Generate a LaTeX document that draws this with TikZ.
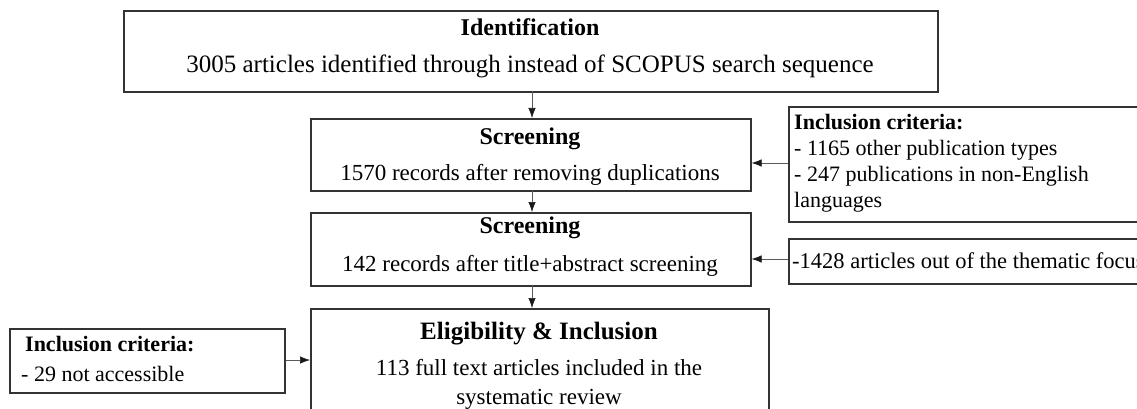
\documentclass[tikz,border=0pt]{standalone}
\usepackage{fontspec}
\setmainfont{Liberation Serif}
\usetikzlibrary{arrows.meta}
\tikzset{
  box/.style={draw=black!80, line width=1.6pt, rectangle, inner sep=0pt, anchor=north west},
  arr/.style={draw=black!65, line width=0.7pt, -{Latex[length=10pt,width=7.5pt,color=black!90]}},
  ttl/.style={anchor=base, inner sep=0pt, font=\bfseries\fontsize{24}{28}\selectfont},
  body/.style={anchor=base, inner sep=0pt, font=\fontsize{23}{27}\selectfont},
  side/.style={anchor=base west, inner sep=0pt, font=\fontsize{22}{26}\selectfont},
  sidet/.style={anchor=base west, inner sep=0pt, font=\bfseries\fontsize{22}{26}\selectfont},
}
\begin{document}
\begin{tikzpicture}[x=1pt,y=-1pt]
\useasboundingbox (0,0) rectangle (1137,409);
\clip (0,0) rectangle (1137,409);
% main boxes
\node[box, minimum width=814pt, minimum height=81pt] (ident) at (123,10) {};
\node[ttl] (identT) at (530,36) {Identification};
\node[body, font=\fontsize{25}{29}\selectfont] (identB) at (530,73) {3005 articles identified through instead of SCOPUS search sequence};

\node[box, minimum width=440pt, minimum height=72pt] (scr1) at (310,118) {};
\node[ttl] (scr1T) at (530,145) {Screening};
\node[body] (scr1B) at (530,180) {1570 records after removing duplications};

\node[box, minimum width=440pt, minimum height=73pt] (scr2) at (310,212) {};
\node[ttl] (scr2T) at (530,233) {Screening};
\node[body] (scr2B) at (530,271) {142 records after title+abstract screening};

\node[box, minimum width=458pt, minimum height=140pt] (elig) at (310,308) {};
\node[ttl, font=\bfseries\fontsize{25}{29}\selectfont] (eligT) at (539,339) {Eligibility \& Inclusion};
\node[body] (eligB1) at (539,375) {113 full text articles included in the};
\node[body] (eligB2) at (539,404) {systematic review};

% side boxes
\node[box, minimum width=380pt, minimum height=115pt] (inc1) at (788,106) {};
\node[sidet] (inc1T) at (794,129) {Inclusion criteria:};
\node[side] (inc1a) at (794,155) {- 1165 other publication types};
\node[side] (inc1b) at (794,181) {- 247 publications in non-English};
\node[side] (inc1c) at (794,207) {languages};

\node[box, minimum width=380pt, minimum height=45pt] (inc2) at (788,238) {};
\node[side, font=\fontsize{22.5}{26}\selectfont] (inc2a) at (792,268) {-1428 articles out of the thematic focus};

\node[box, minimum width=275pt, minimum height=64pt] (inc3) at (9,328) {};
\node[sidet] (inc3T) at (25,351) {Inclusion criteria:};
\node[side] (inc3a) at (21,381) {- 29 not accessible};

% connectors
\coordinate (a1) at (532,91);
\coordinate (a2) at (532,190);
\coordinate (a3) at (532,285);
\draw[arr] (a1) -- (a1 |- scr1.north);
\draw[arr] (a2) -- (a2 |- scr2.north);
\draw[arr] (a3) -- (a3 |- elig.north);
\draw[arr] (inc1.west |- 0,163) -- (scr1.east |- 0,163);
\draw[arr] (inc2.west |- 0,259) -- (scr2.east |- 0,259);
\draw[arr] (inc3.east |- 0,360) -- (elig.west |- 0,360);
\end{tikzpicture}
\end{document}
